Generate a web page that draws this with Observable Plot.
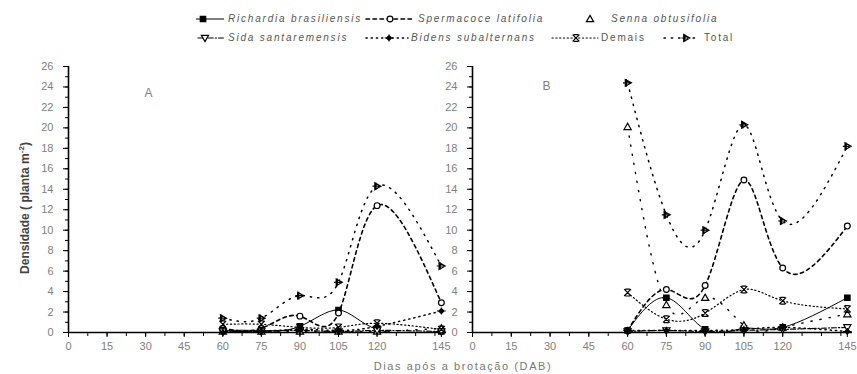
<!DOCTYPE html>
<html><head><meta charset="utf-8">
<script src="https://cdn.jsdelivr.net/npm/d3@7"></script>
<script src="https://cdn.jsdelivr.net/npm/@observablehq/plot@0.6"></script>
<style>
body{margin:0;background:#fff;font-family:"Liberation Sans",Arial,sans-serif;}
#wrap{position:relative;width:857px;height:374px;overflow:hidden;background:#fff;}
.pnl{position:absolute;top:50px;}
.leg{position:absolute;font-size:10px;color:#555;letter-spacing:1.8px;white-space:nowrap;line-height:12px;}
.leg i{font-style:italic;}
.sw{position:absolute;}
#ytitle{position:absolute;left:24px;top:208px;transform:translate(-50%,-50%) rotate(-90deg);font-size:12px;font-weight:bold;color:#444;white-space:nowrap;}
#xtitle{position:absolute;left:463px;top:366px;transform:translate(-50%,-50%);font-size:11px;color:#777;letter-spacing:1.6px;white-space:nowrap;}
</style></head><body>
<div id="wrap">
  <div id="ytitle">Densidade ( planta m<sup style="font-size:8px">-2</sup>)</div>
  <div id="xtitle">Dias após a brotação (DAB)</div>
</div>
<script>
// ---- data ----
const days = [60, 75, 90, 105, 120, 145];
const xTickLabels = [0, 15, 30, 45, 60, 75, 90, 105, 120, 145];
const xMinorTicks = d3.range(0, 143, 7.5);
const yTickLabels = [0, 2, 4, 6, 8, 10, 12, 14, 16, 18, 20, 22, 24, 26];
const yMinorTicks = d3.range(0, 27, 1);
const seriesNames = ["Richardia brasiliensis", "Spermacoce latifolia", "Senna obtusifolia", "Sida santaremensis", "Bidens subalternans", "Demais", "Total"];

// Panel A
const richardiaA  = [0.2, 0.2, 0.6, 2.2, 0.3, 0.1];
const spermacoceA = [0.4, 0.4, 1.6, 1.9, 12.4, 2.9];
const sennaA      = [0.1, 0.1, 0.1, 0.1, 0.1, 0.4];
const sidaA       = [0.1, 0.1, 0.2, 0.1, 0.2, 0.1];
const bidensA     = [0.0, 0.1, 0.3, 0.2, 0.6, 2.1];
const demaisA     = [0.8, 0.8, 0.5, 0.5, 0.9, 0.3];
const totalA      = [1.4, 1.4, 3.6, 4.9, 14.3, 6.5];

// Panel B
const richardiaB  = [0.2, 3.4, 0.3, 0.4, 0.5, 3.4];
const spermacoceB = [0.2, 4.2, 4.6, 14.9, 6.3, 10.4];
const sennaB      = [20.1, 2.7, 3.4, 0.7, 0.5, 1.8];
const sidaB       = [0.1, 0.2, 0.1, 0.2, 0.3, 0.5];
const bidensB     = [0.2, 0.2, 0.2, 0.3, 0.5, 0.1];
const demaisB     = [3.9, 1.3, 1.9, 4.2, 3.1, 2.3];
const totalB      = [24.4, 11.5, 10.0, 20.3, 10.9, 18.2];

// ---- custom symbols ----
const R = size => Math.sqrt(size / Math.PI);
const symSquare = {draw(c, size){ const s = R(size)*0.85; c.rect(-s, -s, 2*s, 2*s); }};
const symCircle = {draw(c, size){ const s = R(size)*0.9; c.moveTo(s, 0); c.arc(0, 0, s, 0, 2*Math.PI); }};
const symTriUp = {draw(c, size){ const s = R(size); c.moveTo(0, -s); c.lineTo(s, s*0.75); c.lineTo(-s, s*0.75); c.closePath(); }};
const symTriDown = {draw(c, size){ const s = R(size); c.moveTo(-s, -s*0.75); c.lineTo(s, -s*0.75); c.lineTo(0, s); c.closePath(); }};
const symBidens = {draw(c, size){ const s = R(size);
  c.moveTo(0, -s*0.7); c.lineTo(s*0.7, 0); c.lineTo(0, s*0.7); c.lineTo(-s*0.7, 0); c.closePath();
  c.moveTo(-s*1.2, 0); c.lineTo(s*1.2, 0); c.moveTo(0, -s); c.lineTo(0, s); }};
const symDemais = {draw(c, size){ const s = R(size);
  c.moveTo(-s, -s); c.lineTo(s, s); c.moveTo(s, -s); c.lineTo(-s, s);
  c.moveTo(-s*0.7, -s); c.lineTo(s*0.7, -s); c.moveTo(-s*0.7, s); c.lineTo(s*0.7, s); }};
const symTotal = {draw(c, size){ const s = R(size);
  c.moveTo(-s*0.6, -s*0.9); c.lineTo(s, 0); c.lineTo(-s*0.6, s*0.9); c.closePath();
  c.moveTo(-s*1.2, 0); c.lineTo(s*0.6, 0); c.moveTo(-s*0.3, -s); c.lineTo(-s*0.3, s); }};

const styles = {
  "Richardia brasiliensis": {dash: null, width: 1, sym: symSquare, fill: "black", r: 3.2},
  "Spermacoce latifolia":   {dash: "3.5,3.5", width: 1.6, sym: symCircle, fill: "white", r: 3.2},
  "Senna obtusifolia":      {dash: "1.2,8", width: 1.4, sym: symTriUp, fill: "white", r: 3.6},
  "Sida santaremensis":     {dash: "5,2,1.2,2", width: 1.2, sym: symTriDown, fill: "white", r: 3.6},
  "Bidens subalternans":    {dash: "1.2,4", width: 1.5, sym: symBidens, fill: "black", r: 3.6},
  "Demais":                 {dash: "1.2,2.6", width: 1.2, sym: symDemais, fill: "none", r: 3.4},
  "Total":                  {dash: "1.3,6", width: 1.5, sym: symTotal, fill: "white", r: 3.8}
};

function rowsFor(arrs) {
  const rows = [];
  seriesNames.forEach((name, i) => days.forEach((d, j) => rows.push({series: name, day: d, value: arrs[i][j]})));
  return rows;
}
const rowsA = rowsFor([richardiaA, spermacoceA, sennaA, sidaA, bidensA, demaisA, totalA]);
const rowsB = rowsFor([richardiaB, spermacoceB, sennaB, sidaB, bidensB, demaisB, totalB]);

function panel(rows, label, o) {
  const marks = [
    Plot.axisY(yMinorTicks, {tickSize: 3, fill: "none", stroke: "black", label: null}),
    Plot.axisY(yTickLabels, {tickSize: 5, tickPadding: 10, stroke: "black", fill: "#808080", label: null}),
    Plot.axisX(xMinorTicks, {tickSize: 4, fill: "none", stroke: "black", label: null}),
    Plot.axisX(xTickLabels, {tickSize: 5, tickPadding: 5, stroke: "black", fill: "#808080", label: null, style: o.xLetter ? "letter-spacing:1.5px" : undefined}),
    Plot.ruleX([0], {stroke: "black", strokeWidth: 1.6}),
    Plot.ruleY([0], {stroke: "black", strokeWidth: 1.6})
  ];
  for (const name of seriesNames) {
    const st = styles[name];
    const data = rows.filter(r => r.series === name);
    marks.push(Plot.line(data, {x: "day", y: "value", curve: "natural", stroke: "black", strokeWidth: st.width, strokeDasharray: st.dash, strokeLinecap: st.dash ? "round" : "butt", clip: true}));
  }
  for (const name of seriesNames) {
    const st = styles[name];
    const data = rows.filter(r => r.series === name);
    marks.push(Plot.dot(data, {x: "day", y: "value", symbol: st.sym, r: st.r, stroke: "black", strokeWidth: 1.2, fill: st.fill}));
  }
  marks.push(Plot.text([label], {text: d => d, frameAnchor: "top-left", dx: o.labelDx, dy: o.labelDy, fill: "#808080", fontSize: 12}));
  return Plot.plot({
    width: o.width, height: 310,
    marginLeft: o.marginLeft, marginRight: o.marginRight, marginTop: 16, marginBottom: 28,
    x: {domain: [0, 147], axis: null},
    y: {domain: [0, 26], axis: null},
    style: {fontFamily: "'Liberation Sans', Arial, sans-serif", fontSize: "11px", background: "transparent", overflow: "visible"},
    marks
  });
}

const wrap = document.getElementById("wrap");
const pA = panel(rowsA, "A", {width: 448, marginLeft: 68, marginRight: 2, labelDx: 76, labelDy: 22});
pA.classList.add("pnl"); pA.style.left = "0px";
const pB = panel(rowsB, "B", {width: 409, marginLeft: 24, marginRight: 5, labelDx: 70, labelDy: 15, xLetter: true});
pB.classList.add("pnl"); pB.style.left = "448px";
wrap.appendChild(pA); wrap.appendChild(pB);

// ---- legend ----
const legendItems = [
  {name: "Richardia brasiliensis", row: 0, swL: 196, swR: 224, mk: 203, tx: 228, italic: true},
  {name: "Spermacoce latifolia",   row: 0, swL: 366, swR: 414, mk: 390, tx: 418, italic: true},
  {name: "Senna obtusifolia",      row: 0, swL: 584, swR: 596, mk: 590, tx: 611, italic: true, noLine: true},
  {name: "Sida santaremensis",     row: 1, swL: 198, swR: 224, mk: 205, tx: 228, italic: true},
  {name: "Bidens subalternans",    row: 1, swL: 366, swR: 408, mk: 389, tx: 411, italic: true},
  {name: "Demais",                 row: 1, swL: 552, swR: 598, mk: 576, tx: 601, italic: false},
  {name: "Total",                  row: 1, swL: 664, swR: 696, mk: 686, tx: 704, italic: false}
];
const rowY = [19, 38];
for (const it of legendItems) {
  const st = styles[it.name];
  const w = it.swR - it.swL + 10;
  const svg = d3.create("svg").attr("class", "sw").attr("width", w).attr("height", 14)
    .style("left", (it.swL - 5) + "px").style("top", (rowY[it.row] - 7) + "px");
  if (!it.noLine) {
    svg.append("line").attr("x1", 5).attr("x2", w - 5).attr("y1", 7).attr("y2", 7)
      .attr("stroke", "black").attr("stroke-width", st.width)
      .attr("stroke-dasharray", st.dash).attr("stroke-linecap", st.dash ? "round" : "butt");
  }
  const size = Math.PI * st.r * st.r;
  svg.append("path").attr("d", d3.symbol(st.sym, size)())
    .attr("transform", `translate(${it.mk - it.swL + 5},7)`)
    .attr("stroke", "black").attr("stroke-width", 1.2).attr("fill", st.fill);
  wrap.appendChild(svg.node());
  const span = document.createElement("div");
  span.className = "leg";
  span.style.left = it.tx + "px";
  span.style.top = (rowY[it.row] - 6) + "px";
  span.innerHTML = it.italic ? `<i>${it.name}</i>` : it.name;
  wrap.appendChild(span);
}
</script>
</body></html>
